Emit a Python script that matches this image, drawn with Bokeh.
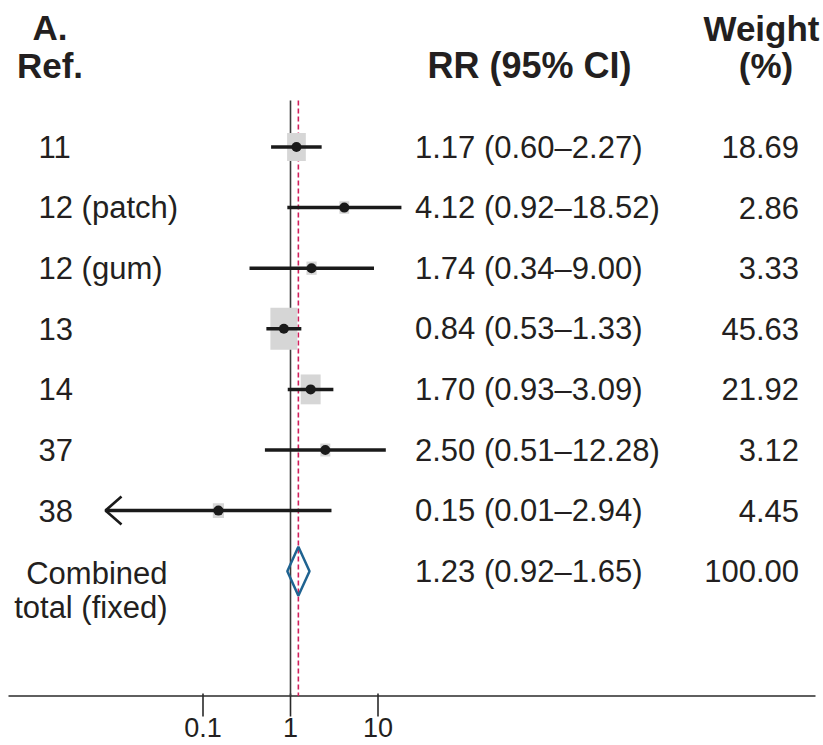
import numpy as np
from bokeh.plotting import figure
from bokeh.models import Range1d, LinearScale, LogScale, ColumnDataSource
from bokeh.core.properties import value
from bokeh.embed import file_html
from bokeh.resources import INLINE

# ---------------- data ----------------
refs = ["11", "12 (patch)", "12 (gum)", "13", "14", "37", "38"]
rr = [1.17, 4.12, 1.74, 0.84, 1.70, 2.50, 0.15]
ci_low = [0.60, 0.92, 0.34, 0.53, 0.93, 0.51, 0.01]
ci_high = [2.27, 18.52, 9.00, 1.33, 3.09, 12.28, 2.94]
weights = [18.69, 2.86, 3.33, 45.63, 21.92, 3.12, 4.45]
combined_label = ["Combined", "total (fixed)"]
combined_rr = 1.23
combined_low = 0.92
combined_high = 1.65
combined_weight = 100.00
tick_values = [0.1, 1, 10]
tick_labels = ["0.1", "1", "10"]

# ---------------- layout helpers ----------------
W, H = 823, 745
X1_PX, DEC = 290.0, 87.5          # pixel of RR = 1, pixels per decade
ROW0, ROW_H = 146.5, 60.6         # pixel of first row, row spacing
AXIS_PX = 695.5
X_MIN = 10 ** ((105 - X1_PX) / DEC)   # lower limit of the drawn scale (arrow tip)
ARROW_BELOW = 0.01                    # CI limits at/below this are drawn as arrows

FONT = "Liberation Sans"
TXT = "#231f20"
INK = "#1a1a1a"


def row(px):
    return (px - ROW0) / ROW_H


def xlog(px):
    return 10 ** ((px - X1_PX) / DEC)


p = figure(width=W, height=H, output_backend="svg", toolbar_location=None,
           x_axis_type="log", x_axis_location=None, y_axis_location=None,
           x_range=Range1d(xlog(0), xlog(W)),
           y_range=Range1d(row(H), row(0)),
           min_border_left=0, min_border_right=0,
           min_border_top=0, min_border_bottom=0,
           outline_line_color=None)
p.x_scale = LogScale()
p.grid.visible = False
p.extra_x_ranges = {"px": Range1d(0, W)}
p.extra_x_scales = {"px": LinearScale()}

n = len(refs)
ys = list(range(n))
comb_y = n

# ---------------- axis (drawn through the log scale) ----------------
p.segment(x0=[xlog(8)], y0=[row(AXIS_PX)], x1=[xlog(815)], y1=[row(AXIS_PX)],
          line_color="#2a2a2a", line_width=1.6)
p.segment(x0=tick_values, y0=[row(693)] * len(tick_values), x1=tick_values,
          y1=[row(716)] * len(tick_values), line_color="#2a2a2a", line_width=1.6)
p.text(x=tick_values, y=[row(727)] * len(tick_values), text=tick_labels,
       text_font=value(FONT), text_font_size="27px", text_color=TXT,
       text_align="center", text_baseline="middle")

# reference lines
top_y = row(100)
p.segment(x0=[1], y0=[top_y], x1=[1], y1=[row(AXIS_PX)], line_color="#3a3a3a", line_width=1.6)
p.segment(x0=[combined_rr], y0=[top_y], x1=[combined_rr], y1=[row(AXIS_PX)],
          line_color="#d21f5c", line_width=1.6, line_dash="5 3")

# weight boxes
sq = np.sqrt(np.array(weights))
clipped = [v <= ARROW_BELOW for v in ci_low]
src = ColumnDataSource(dict(
    x=rr, y=ys,
    w=4 + 3.4 * sq, h=2.7 + 5.8 * sq,
    lo=[X_MIN if c else v for v, c in zip(ci_low, clipped)], hi=ci_high,
))
p.rect(x="x", y="y", width="w", height="h", width_units="screen", height_units="screen",
       source=src, fill_color="#d6d6d6", line_color=None)

# CI lines and point estimates
p.segment(x0="lo", y0="y", x1="hi", y1="y", source=src, line_color=INK, line_width=3.5)
p.scatter(x="x", y="y", source=src, size=10, marker="circle", fill_color=INK, line_color=None)

# open arrow heads for clipped lower limits
dy = 14 / ROW_H
fx = 10 ** (16 / DEC)
for c, yy in zip(clipped, ys):
    if c:
        p.line(x=[X_MIN * fx, X_MIN, X_MIN * fx], y=[yy - dy, yy, yy + dy],
               line_color=INK, line_width=2.6)

# combined diamond
hd = 24.5 / ROW_H
p.patch(x=[combined_low, combined_rr, combined_high, combined_rr],
        y=[comb_y, comb_y - hd, comb_y, comb_y + hd],
        fill_color=None, line_color="#1f6391", line_width=2.5)

# ---------------- texts ----------------
tstyle = dict(text_font=value(FONT), text_color=TXT, x_range_name="px",
              text_baseline="middle")

p.text(x=[38] * n, y=ys, text=refs, text_font_size="31px", text_align="left", **tstyle)
p.text(x=[167, 167], y=[row(573), row(607)], text=combined_label, text_font_size="31px",
       text_align="right", **tstyle)

rr_txt = [f"{a:.2f} ({b:.2f}\u2013{c:.2f})" for a, b, c in zip(rr, ci_low, ci_high)]
rr_txt.append(f"{combined_rr:.2f} ({combined_low:.2f}\u2013{combined_high:.2f})")
p.text(x=[414.5] * (n + 1), y=ys + [comb_y], text=rr_txt, text_font_size="31px",
       text_align="left", **tstyle)

w_txt = [f"{w:.2f}" for w in weights] + [f"{combined_weight:.2f}"]
p.text(x=[798.5] * (n + 1), y=ys + [comb_y], text=w_txt, text_font_size="31px",
       text_align="right", **tstyle)

# headers
hstyle = dict(text_font_style="bold", text_align="center", **tstyle)
p.text(x=[49.5, 49.5], y=[row(27), row(65)], text=["A.", "Ref."], text_font_size="35px", **hstyle)
p.text(x=[529], y=[row(64.5)], text=["RR (95% CI)"], text_font_size="36px", **hstyle)
p.text(x=[761, 765.5], y=[row(27.5), row(65)], text=["Weight", "(%)"], text_font_size="35px", **hstyle)

open("out.html", "w").write(file_html(p, INLINE))
